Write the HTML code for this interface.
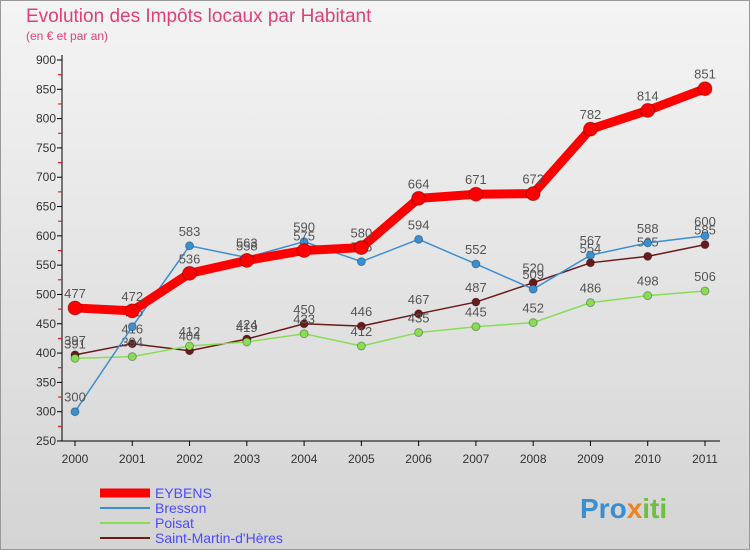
<!DOCTYPE html>
<html><head><meta charset="utf-8"><style>
body{margin:0;width:750px;height:550px;overflow:hidden;font-family:"Liberation Sans",sans-serif}
</style></head><body>
<svg width="750" height="550" xmlns="http://www.w3.org/2000/svg">
<defs><linearGradient id="bg" x1="0" y1="0" x2="0" y2="1"><stop offset="0" stop-color="#f4f4f4"/><stop offset="1" stop-color="#d4d4d4"/></linearGradient></defs>
<rect x="0.5" y="0.5" width="749" height="549" fill="url(#bg)" stroke="#999"/>
<text x="26" y="22" font-size="19" fill="#e0407a">Evolution des Impôts locaux par Habitant</text>
<text x="26" y="40" font-size="12" fill="#e0407a">(en € et par an)</text>
<g id="axes"></g><g id="series"></g><g id="legend"></g>
<text x="580" y="518" font-size="28" font-weight="bold" fill="#3a8fd0">Pro<tspan fill="#f08020">x</tspan><tspan fill="#6bc040">iti</tspan></text>
</svg>
<script>
const years=["2000","2001","2002","2003","2004","2005","2006","2007","2008","2009","2010","2011"];
const yTicks=[250,300,350,400,450,500,550,600,650,700,750,800,850,900];
const eybens=[477,472,536,558,575,580,664,671,672,782,814,851];
const bresson=[300,445,583,563,590,556,594,552,509,567,588,600];
const poisat=[391,394,412,419,433,412,435,445,452,486,498,506];
const smh=[397,416,404,424,450,446,467,487,520,554,565,585];
const NS="http://www.w3.org/2000/svg";
function X(i){return 75+i*(630/11);}
function Y(v){return 441-(v-250)*(381/650);}
function mk(t,a,p){const e=document.createElementNS(NS,t);for(const k in a)e.setAttribute(k,a[k]);p.appendChild(e);return e;}
const ax=document.getElementById('axes');
const yl=mk('line',{x1:62,y1:55,x2:62,y2:441,stroke:'#000'},ax);


const xl=mk('line',{x1:62,y1:441,x2:720,y2:441,stroke:'#000'},ax);


yTicks.forEach((v,i)=>{
 mk('line',{x1:57,y1:Y(v),x2:62,y2:Y(v),stroke:'#000'},ax);
 if(i<yTicks.length-1)mk('line',{x1:58,y1:Y(v+25),x2:62,y2:Y(v+25),stroke:'#e00'},ax);
 const t=mk('text',{x:56,y:Y(v)+4,'font-size':12,'text-anchor':'end',fill:'#333'},ax);t.textContent=v;
 
 
});
years.forEach((y,i)=>{
 mk('line',{x1:X(i),y1:441,x2:X(i),y2:446,stroke:'#000'},ax);
 const t=mk('text',{x:X(i),y:463,'font-size':12,'text-anchor':'middle',fill:'#333'},ax);t.textContent=y;
 
 
});
const S=document.getElementById('series');
const defs=[
 {d:smh,c:'#6b1a1a',w:1.5,r:4,n:'saint-martin-d-heres'},
 {d:poisat,c:'#88dd55',w:1.5,r:4,n:'poisat'},
 {d:bresson,c:'#3a8fd0',w:1.5,r:4,n:'bresson'},
 {d:eybens,c:'#ff0000',w:9,r:7,n:'eybens'}];
defs.forEach(s=>{
 const g=mk('g',{},S);
 
 
 const pl=mk('polyline',{points:s.d.map((v,i)=>X(i)+','+Y(v)).join(' '),fill:'none',stroke:s.c,'stroke-width':s.w},g);
 
 
 s.d.forEach((v,i)=>{
  const c=mk('circle',{cx:X(i),cy:Y(v),r:s.r,fill:s.c,stroke:'rgba(0,0,0,0.3)'},g);
  
  
  const t=mk('text',{x:X(i),y:Y(v)-10,'font-size':13,'text-anchor':'middle',fill:'#555'},g);t.textContent=v;
  
  
 });
});
const L=document.getElementById('legend');
[['EYBENS','#ff0000',9],['Bresson','#3a8fd0',2],['Poisat','#88dd55',2],['Saint-Martin-d\'Hères','#6b1a1a',2]].forEach((e,i)=>{
 const y=493+i*15;
 const l=mk('line',{x1:100,y1:y,x2:150,y2:y,stroke:e[1],'stroke-width':e[2]},L);
 
 
 const t=mk('text',{x:155,y:y+5,'font-size':14,fill:'#4a4aff'},L);t.textContent=e[0];
 
 
});
</script>
</body></html>
